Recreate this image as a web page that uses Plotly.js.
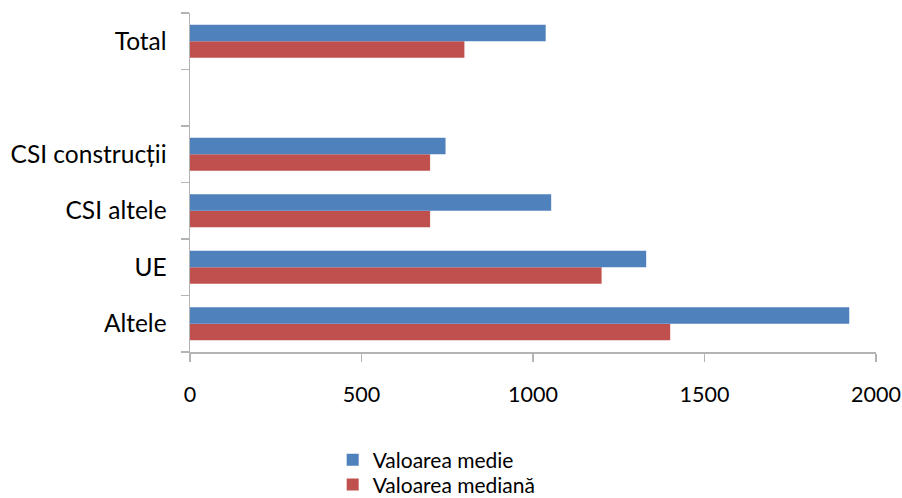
<!DOCTYPE html>
<html><head><meta charset="utf-8">
<script src="https://cdn.plot.ly/plotly-3.0.1.min.js"></script>
<style>html,body{margin:0;padding:0;background:#fff}</style>
</head><body>
<div id="chart" style="width:902px;height:498px"></div>
<script>
const categories = ["Altele", "UE", "CSI altele", "CSI construcții", " ", "Total"];
const valoareaMedie = [1922, 1330, 1053, 745, null, 1037];
const valoareaMediana = [1400, 1200, 700, 700, null, 800];
const xTicks = [0, 500, 1000, 1500, 2000];

const font = {family: "Lato, 'Open Sans', sans-serif", size: 24.5, color: "#000"};
const xFont = {family: font.family, size: 21.5, color: "#000"};
const traces = [
  {type: "bar", orientation: "h", name: "Valoarea mediană", y: categories, x: valoareaMediana,
   marker: {color: "#C0504D"}, legend: "legend2"},
  {type: "bar", orientation: "h", name: "Valoarea medie", y: categories, x: valoareaMedie,
   marker: {color: "#4F81BD"}, legend: "legend"}
];
const legendBase = {x: 0.208, xanchor: "left", yanchor: "middle",
  font: {family: font.family, size: 21, color: "#000"}, itemwidth: 30,
  bgcolor: "rgba(0,0,0,0)", borderwidth: 0};
const layout = {
  width: 902, height: 498,
  margin: {l: 190, r: 26, t: 13, b: 146, autoexpand: false},
  paper_bgcolor: "#fff", plot_bgcolor: "#fff",
  barmode: "group", bargap: 0.415, bargroupgap: 0,
  font: font,
  showlegend: true,
  legend: Object.assign({}, legendBase, {y: -0.319}),
  legend2: Object.assign({}, legendBase, {y: -0.392}),
  xaxis: {range: [0, 2000], tickvals: xTicks, ticktext: xTicks.map(String), showgrid: false,
          zeroline: false, showline: true, linecolor: "#B3B3B3", linewidth: 1.5,
          ticks: "outside", ticklen: 8, tickwidth: 1.5, tickcolor: "#B3B3B3", ticklabelstandoff: 15,
          ticklabeloverflow: "allow", tickfont: xFont, fixedrange: true, automargin: false},
  yaxis: {type: "category", categoryorder: "array", categoryarray: categories,
          showgrid: false, zeroline: false, showline: true, linecolor: "#B3B3B3", linewidth: 1.5,
          ticks: "outside", tickson: "boundaries", ticklen: 8, tickwidth: 1.5, tickcolor: "#B3B3B3",
          ticklabelstandoff: 17, tickfont: font, fixedrange: true, automargin: false}
};
Plotly.newPlot("chart", traces, layout, {staticPlot: true, displayModeBar: false});
</script>
</body></html>
